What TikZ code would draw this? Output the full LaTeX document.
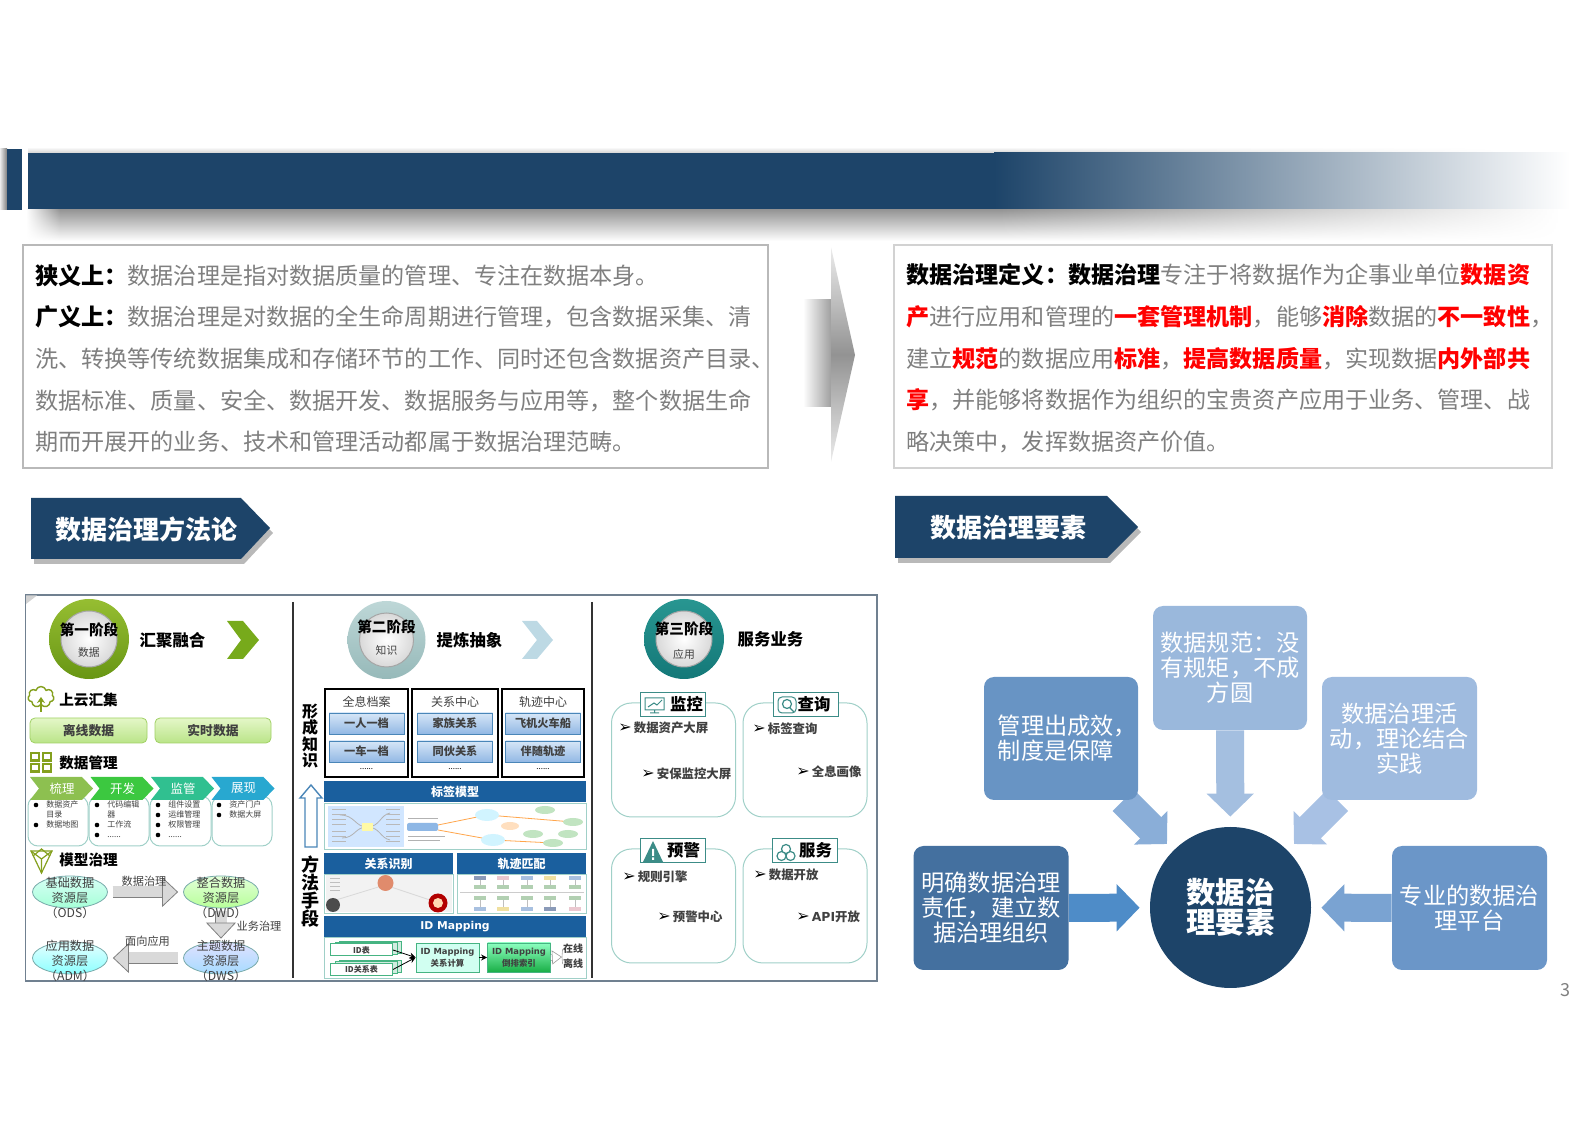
\documentclass[tikz,border=0pt]{standalone}
\usepackage{fontspec}
\setmainfont{Noto Sans CJK SC}
\newfontfamily\latinfont{DejaVu Sans}
\newcommand{\hlred}[1]{{\bfseries\color{red}#1}}
\newcommand{\hlblack}[1]{{\bfseries\color{black}#1}}
\newcommand{\pointer}{{\latinfont\fontsize{8}{7}\selectfont\color{black}➢}\,}
\usetikzlibrary{shapes.geometric,shapes.symbols,arrows.meta,backgrounds,fadings}
\tikzfading[name=barfade,left color=transparent!0,right color=transparent!100]
\tikzfading[name=barfadein,left color=transparent!100,right color=transparent!0]

\tikzset{
  box size/.style 2 args={minimum width=#1*0.5pt,minimum height=#2*0.5pt,inner sep=0pt},
  infobox/.style={draw=gray!55,line width=.6pt,fill=white},
  passage/.style={anchor=west,inner sep=0pt,align=left,text=bodygrey,font=\fontsize{11.55}{20.85}\selectfont},
  tagtext/.style={inner sep=0pt,text=white,font=\fontsize{13}{15}\selectfont\bfseries},
  factor/.style={rounded corners=5pt,text=white,align=center,inner sep=0pt,font=\fontsize{11.6}{12.5}\selectfont},
  feeder/.style={line width=14pt,-{Triangle[width=23pt,length=11.5pt]}},
  stageink/.style={inner sep=0pt,font=\fontsize{7.3}{8}\selectfont\bfseries},
  stagesub/.style={inner sep=0pt,text=textgrey,font=\fontsize{5.4}{6}\selectfont},
  stagehead/.style={inner sep=0pt,font=\fontsize{8.2}{9}\selectfont\bfseries},
  stagering/.style={circle,minimum size=40pt,inner sep=0pt},
  stagecore/.style={circle,draw=gray!70,line width=.5pt,inner color=white,outer color=gray!30,minimum size=28pt,inner sep=0pt},
  minihead/.style={anchor=west,inner sep=0pt,font=\fontsize{7.3}{8}\selectfont\bfseries},
  greenbutton/.style={rounded corners=2.5pt,draw=buttonedge,line width=.4pt,top color=buttontop,bottom color=buttonlow,text=textgrey,font=\fontsize{6.4}{7}\selectfont\bfseries},
  listcard/.style={rounded corners=5pt,draw=cardedge,line width=.5pt,fill=white},
  listtext/.style={anchor=north west,inner sep=0pt,align=left,text=textgrey,font=\fontsize{4}{5}\selectfont},
  chevtext/.style={inner sep=0pt,text=white,font=\fontsize{6.2}{7}\selectfont},
  layer/.style={ellipse,draw=layeredge,line width=.4pt,box size={75}{32}},
  layertext/.style={inner sep=0pt,align=center,text=textgrey,font=\fontsize{6.1}{7.5}\selectfont},
  smalllabel/.style={inner sep=0pt,text=textgrey,font=\fontsize{5.6}{6}\selectfont},
  blockflow/.style={line width=.4pt,draw=gray,double=gray!30,double distance=5.5pt,
    -{Triangle[width=15pt,length=8pt,fill=gray!30,color=gray,line width=.4pt]}},
  archive/.style={draw=black,line width=.8pt,fill=white},
  archivehead/.style={inner sep=0pt,text=textgrey,font=\fontsize{6}{7}\selectfont},
  bluecell/.style={draw=celledge,line width=.4pt,top color=celltop,bottom color=celllow,box size={75}{21},text=textgrey,font=\fontsize{5.6}{6}\selectfont\bfseries},
  dotted row/.style={inner sep=0pt,font=\fontsize{4}{4}\selectfont},
  bandhead/.style={fill=bandblue,text=white,font=\fontsize{6}{7}\selectfont\bfseries},
  bandbody/.style={draw=cardedge,line width=.4pt,fill=white},
  sidewords/.style={inner sep=0pt,align=center,font=\fontsize{8}{8.05}\selectfont\bfseries},
  idback/.style={draw=idgreen,line width=.4pt,fill=idgreen!25},
  idstack/.style={draw=idgreen,line width=.5pt,fill=white,box size={62}{12},text=textgrey,font=\fontsize{4}{5}\selectfont\bfseries},
  idblock/.style={draw=idgreen,line width=.4pt,box size={63}{29},align=center,text=textgrey,font=\fontsize{4.2}{6}\selectfont\bfseries},
  idflow/.style={line width=.4pt,-{Stealth[length=3pt,width=3pt]}},
  sidecard/.style={rounded corners=10pt,draw=cardedge,line width=.5pt,fill=white,box size={124}{114}},
  cardtag/.style={draw=tagteal,line width=.5pt,fill=white,box size={65}{23.5}},
  tagword/.style={inner sep=0pt,font=\fontsize{8.2}{9}\selectfont\bfseries},
  carditem/.style={anchor=west,inner sep=0pt,text=textgrey,font=\fontsize{6.2}{7}\selectfont\bfseries}
}

\begin{document}
\begin{tikzpicture}[x=0.5pt,y=-0.5pt]
    \definecolor{barnavy}{RGB}{29,68,105}
    \definecolor{bodygrey}{RGB}{127,127,127}
    \definecolor{textgrey}{RGB}{64,64,64}
    \definecolor{buttonedge}{RGB}{160,208,100}
    \definecolor{buttontop}{RGB}{228,247,200}
    \definecolor{buttonlow}{RGB}{186,228,136}
    \definecolor{cardedge}{RGB}{160,208,200}
    \definecolor{layeredge}{RGB}{120,170,170}
    \definecolor{celledge}{RGB}{74,134,184}
    \definecolor{celltop}{RGB}{214,230,247}
    \definecolor{celllow}{RGB}{146,184,228}
    \definecolor{bandblue}{RGB}{26,95,158}
    \definecolor{idgreen}{RGB}{70,180,130}
    \definecolor{tagteal}{RGB}{60,140,135}
    \definecolor{panelgrey}{RGB}{112,128,144}
    \definecolor{iconolive}{RGB}{132,160,30}
    \definecolor{ringonetop}{RGB}{150,190,50}
    \definecolor{ringonelow}{RGB}{104,150,20}
    \definecolor{ringtwotop}{RGB}{190,215,215}
    \definecolor{ringtwolow}{RGB}{150,185,185}
    \definecolor{ringthreetop}{RGB}{40,150,145}
    \definecolor{ringthreelow}{RGB}{20,120,120}
    \definecolor{chevsort}{RGB}{141,192,80}
    \definecolor{chevbuild}{RGB}{60,200,64}
    \definecolor{chevwatch}{RGB}{48,192,144}
    \definecolor{chevshow}{RGB}{40,168,208}
    \definecolor{trackdark}{RGB}{138,154,184}
    \definecolor{trackpink}{RGB}{235,200,208}
    \definecolor{trackblue}{RGB}{168,192,224}
    \definecolor{trackyellow}{RGB}{240,224,160}
    \definecolor{trackgreen}{RGB}{178,208,178}
    \definecolor{leadblue}{RGB}{68,112,159}
    \definecolor{manageblue}{RGB}{104,148,196}
    \definecolor{specblue}{RGB}{154,184,220}
    \definecolor{activityblue}{RGB}{159,187,223}
    \definecolor{platformblue}{RGB}{107,150,200}
    \definecolor{leadarrow}{RGB}{78,140,200}
    \definecolor{platformarrow}{RGB}{122,163,210}
    \definecolor{specarrow}{RGB}{164,191,224}
    \definecolor{managearrow}{RGB}{138,174,216}
    \definecolor{activityarrow}{RGB}{168,193,228}

    \useasboundingbox (0,0) rectangle (1587,1122);

    % Top bar with its shadow
    \shade[top color=white,bottom color=gray!35] (28,147) rectangle (1000,153);
    \shade[top color=white,bottom color=gray!35,path fading=barfade] (1000,147) rectangle (1500,153);
    \shade[top color=gray!85,bottom color=white,path fading=barfadein] (26,209) rectangle (60,241);
    \shade[top color=gray!85,bottom color=white] (60,209) rectangle (1000,241);
    \shade[top color=gray!85,bottom color=white,path fading=barfade] (1000,209) rectangle (1560,241);
    \shade[left color=gray!15,right color=gray] (0,149) rectangle (7,210);
    \fill[barnavy] (7,149) rectangle (22,210);
    \fill[barnavy] (28,153) rectangle (995,209);
    \shade[left color=barnavy,right color=white] (994,153) rectangle (1570,209);

    % Definition boxes
    \node[infobox,box size={745}{223}] (narrowbox) at (395.5,356.5) {};
    \node[passage] (narrowtext) at (35,358.5) {\hlblack{狭义上：}数据治理是指对数据质量的管理、专注在数据本身。\\
      \hlblack{广义上：}数据治理是对数据的全生命周期进行管理，包含数据采集、清\\
      洗、转换等传统数据集成和存储环节的工作、同时还包含数据资产目录、\\
      数据标准、质量、安全、数据开发、数据服务与应用等，整个数据生命\\
      期而开展开的业务、技术和管理活动都属于数据治理范畴。};

    \node[infobox,draw=gray!35,box size={658}{223}] (definebox) at (1223,356.5) {};
    \node[passage] (definetext) at (906,358.5) {\hlblack{数据治理定义：数据治理}专注于将数据作为企事业单位\hlred{数据资}\\
      \hlred{产}进行应用和管理的\hlred{一套管理机制}，能够\hlred{消除}数据的\hlred{不一致性}，\\
      建立\hlred{规范}的数据应用\hlred{标准}，\hlred{提高数据质量}，实现数据\hlred{内外部共}\\
      \hlred{享}，并能够将数据作为组织的宝贵资产应用于业务、管理、战\\
      略决策中，发挥数据资产价值。};

    % Big arrow between the boxes
    \shade[left color=white,right color=gray!75] (803,300) rectangle (831,407);
    \shade[top color=gray!15,bottom color=gray!15,middle color=gray!85] (831,247) -- (855,355) -- (831,462) -- cycle;

    % Section tags
    \fill[gray!55] (34,503) -- (244,503) -- (273,533) -- (244,564) -- (34,564) -- cycle;
    \fill[barnavy] (31,498) -- (241,498) -- (270,528) -- (241,559) -- (31,559) -- cycle;
    \node[tagtext] (methodtag) at (146.5,529) {数据治理方法论};
    \fill[gray!55] (898,501) -- (1110,501) -- (1141,532) -- (1110,563) -- (898,563) -- cycle;
    \fill[barnavy] (895,496) -- (1107,496) -- (1138,527) -- (1107,558) -- (895,558) -- cycle;
    \node[tagtext] (elementtag) at (1008,528) {数据治理要素};

    % Method panel
    \draw[panelgrey,line width=.7pt] (25.5,595) rectangle (877,981);
    \fill[gray!35] (26,595.5) -- (37,595.5) -- (26,604) -- cycle;
    \draw[black!80,line width=.8pt] (293,602) -- (293,978);
    \draw[black!80,line width=.8pt] (592,602) -- (592,978);

    % First stage
    \node[stagering,top color=ringonetop,bottom color=ringonelow] (ringone) at (89,639) {};
    \node[stagecore] (coreone) at (ringone.center) {};
    \node[stageink] (stageone) at (89,630) {第一阶段};
    \node[stagesub] (subone) at (89,652) {数据};
    \node[stagehead] (headone) at (172.5,640) {汇聚融合};
    \fill[iconolive!90!green] (227,621) -- (243,621) -- (259,640) -- (243,659) -- (227,659) -- (241,640) -- cycle;

    \node[cloud,cloud puffs=7,aspect=1.2,draw=iconolive,line width=.7pt,fill=white,minimum width=13pt,minimum height=10.5pt,inner sep=0pt] (cloudicon) at (41,697) {};
    \draw[iconolive,line width=.7pt,-{Stealth[length=3pt,width=4pt]}] (41,712) -- (cloudicon.center);
    \node[minihead] (cloudhead) at (59,700) {上云汇集};
    \node[greenbutton,box size={117}{25}] (offline) at (88.5,730.5) {离线数据};
    \node[greenbutton,box size={116}{25}] (realtime) at (213,730.5) {实时数据};

    \foreach \x/\y in {31/753,43/753,31/764,43/764}
      \draw[iconolive,line width=1.1pt,fill=white] (\x,\y) rectangle ++(8,7.5);
    \node[minihead] (managehead) at (59,763) {数据管理};

    \node[listcard,box size={60}{50}] (cardsort) at (58,821) {};
    \node[listcard,box size={60}{50}] (cardbuild) at (119,821) {};
    \node[listcard,box size={61}{50}] (cardwatch) at (180.5,821) {};
    \node[listcard,box size={60}{50}] (cardshow) at (242,821) {};
    \foreach \name/\x/\word in {sort/30/梳理,build/90.5/开发,watch/151/监管,show/211.5/展现}{
      \fill[color=chev\name] (\x,777) -- ++(52,0) -- ++(11,11.5) -- ++(-11,11.5) -- ++(-52,0) -- ++(9,-11.5) -- cycle;
      \node[chevtext] (chev\name) at ({\x+32},788.5) {\word};
    }
    \node[listtext] (listsort) at (46,800.5) {数据资产\\目录\\数据地图};
    \node[listtext] (listbuild) at (107,800.5) {代码编辑\\器\\工作流\\......};
    \node[listtext] (listwatch) at (168,800.5) {组件设置\\运维管理\\权限管理\\......};
    \node[listtext] (listshow) at (229,800.5) {资产门户\\数据大屏};
    \foreach \x/\y in {36/805,36/825,97/805,97/825,97/835,158/805,158/815,158/825,158/835,219/805,219/815}
      \fill[black] (\x,\y) circle (2.3);

    % Model icon
    \draw[iconolive,line width=.6pt] (31,851) -- (52,851) -- (41.5,873) -- cycle;
    \draw[iconolive,line width=.6pt] (31,851) -- (41.5,859) -- (52,851) (41.5,859) -- (41.5,873) (33,856) -- (41.5,849) -- (50,856);
    \node[minihead] (modelhead) at (59,860) {模型治理};

    \node[layer,top color=green!20!cyan!15,bottom color=green!45!cyan!35] (ods) at (70,892) {};
    \node[layer,top color=yellow!25!green!15,bottom color=yellow!30!green!40] (dwd) at (221,892) {};
    \node[layer,top color=blue!12,bottom color=blue!40!cyan!35] (dws) at (221,958) {};
    \node[layer,top color=cyan!10,bottom color=cyan!45] (adm) at (70,958) {};
    \draw[blockflow,shorten <=2.5pt,shorten >=2.5pt] (ods) -- (dwd);
    \draw[blockflow,shorten <=1.5pt,shorten >=1.5pt] (dwd) -- (dws);
    \draw[blockflow,shorten <=2.5pt,shorten >=2.5pt] (dws) -- (adm);
    \node[layertext] (odstext) at (70,898) {基础数据\\资源层\\（ODS）};
    \node[layertext] (dwdtext) at (221,898) {整合数据\\资源层\\（DWD）};
    \node[layertext] (dwstext) at (221,960.5) {主题数据\\资源层\\（DWS）};
    \node[layertext] (admtext) at (70,960.5) {应用数据\\资源层\\（ADM）};
    \node[smalllabel] (govern) at (144,881) {数据治理};
    \node[smalllabel] (business) at (259,926) {业务治理};
    \node[smalllabel] (facing) at (147.5,941) {面向应用};

    % Second stage
    \node[stagering,top color=ringtwotop,bottom color=ringtwolow,minimum size=39pt] (ringtwo) at (386.5,640) {};
    \node[stagecore,minimum size=27pt] (coretwo) at (ringtwo.center) {};
    \node[stageink] (stagetwo) at (386.5,627) {第二阶段};
    \node[stagesub] (subtwo) at (386.5,650) {知识};
    \node[stagehead] (headtwo) at (469.5,640) {提炼抽象};
    \fill[cyan!45!gray!40] (522,621) -- (537,621) -- (553,640) -- (537,659) -- (522,659) -- (537,640) -- cycle;

    \node[sidewords] (formwords) at (310,736) {形\\成\\知\\识};
    \draw[celledge,line width=.7pt,fill=white] (305,847) -- (305,798) -- (300,798) -- (311,785) -- (322,798) -- (317,798) -- (317,847) -- cycle;
    \node[sidewords,font=\fontsize{9}{9}\selectfont\bfseries] (meanwords) at (310,892) {方\\法\\手\\段};

    % Knowledge archives
    \foreach \name/\x/\wdth/\title/\one/\two in {person/366.5/83/全息档案/一人一档/一车一档,
                                                 relation/455/86/关系中心/家族关系/同伙关系,
                                                 track/543/82/轨迹中心/飞机火车船/伴随轨迹}{
      \node[archive,box size={\wdth}{88}] (arch\name) at (\x,733) {};
      \node[archivehead] (title\name) at (\x,702) {\title};
      \node[bluecell] (first\name) at (\x,723.5) {\one};
      \node[bluecell] (second\name) at (\x,751.5) {\two};
      \node[dotted row] (dots\name) at (\x,769) {......};
    }

    % Tag model band
    \node[bandbody,box size={262}{46}] (tagbody) at (455,826) {};
    \node[bandhead,box size={262}{21}] (taghead) at (455,791.5) {标签模型};
    \fill[blue!55!cyan!18] (328,806) rectangle (404,847);
    \draw[gray!60,line width=.4pt] (340,815) .. controls (355,815) and (355,827) .. (367,827) .. controls (380,827) and (380,815) .. (390,813);
    \draw[gray!60,line width=.4pt] (342,838) .. controls (355,838) and (355,827) .. (367,827) .. controls (380,827) and (380,838) .. (390,840);
    \foreach \y in {810,815,820,825,832,837,842} {
      \draw[gray!55,line width=.5pt] (332,\y) -- (346,\y);
      \draw[gray!55,line width=.5pt] (386,\y) -- (400,\y);
    }
    \fill[yellow!35] (362,823) rectangle (373,831);
    \draw[orange!70,line width=.4pt] (573,822) -- (487,815) -- (438,825);
    \draw[orange!70,line width=.4pt] (553,843) -- (493,840) -- (438,830);
    \fill[cyan!60!blue!45,rounded corners=1pt] (407,823) rectangle (438,831);
    \foreach \x/\y in {487/815,493/840} \fill[blue!25!cyan!18] (\x,\y) ellipse [x radius=12,y radius=6];
    \foreach \x/\y in {545/810,573/822,533/834,568/834,553/843} \fill[green!40!gray!35] (\x,\y) ellipse [x radius=10,y radius=4];
    \fill[orange!25] (510,826) ellipse [x radius=9,y radius=4];
    \foreach \y/\x in {818/438,836/445,840/440} \draw[gray!60,line width=.4pt] (408,\y) -- (\x,\y);

    % Relation and track bands
    \node[bandbody,box size={129}{39}] (relationbody) at (388.5,894) {};
    \node[bandhead,box size={129}{21}] (relationhead) at (388.5,863.5) {关系识别};
    \fill[gray!10] (326,875) rectangle (452,912);
    \draw[gray!30,line width=.4pt] (336,900) -- (385,885) -- (436,902);
    \fill[brown!70!red!70] (385.5,883) circle (8);
    \fill[black!70] (333,905) circle (7);
    \fill[red!70!black] (438,903) circle (9.5);
    \fill[orange!30] (438,903) circle (5);
    \foreach \y in {878,882,886,890} \draw[gray!50,line width=.3pt] (330,\y) -- (340,\y);

    \node[bandbody,box size={129}{39}] (trackbody) at (521.5,894) {};
    \node[bandhead,box size={129}{21}] (trackhead) at (521.5,863.5) {轨迹匹配};
    \draw[gray!40,line width=.3pt] (460,892.5) -- (584,892.5);
    \foreach \x/\upper/\lower in {480/trackdark/trackblue,503/trackpink/trackyellow,527/trackblue/trackblue,550/trackyellow/trackdark,575/trackblue/trackpink}{
      \fill[color=\upper] (\x-6,876.5) rectangle (\x+6,880.5);
      \fill[trackgreen] (\x-6,885) rectangle (\x+6,889);
      \fill[trackgreen] (\x-6,896) rectangle (\x+6,900);
      \fill[color=\lower] (\x-6,907) rectangle (\x+6,911);
      \draw[gray!50,line width=.2pt] (\x,880.5) -- (\x,885) (\x,900) -- (\x,907);
    }

    % ID Mapping band
    \node[bandbody,box size={262}{41}] (idbody) at (455,958) {};
    \node[bandhead,box size={262}{21},font=\fontsize{5.4}{7}\latinfont\bfseries] (idhead) at (455,926.5) {ID Mapping};
    \foreach \y in {941,960} {
      \draw[idback] (339,\y) rectangle (401,\y+12);
      \draw[idback] (335,\y+1) rectangle (397,\y+13);
    }
    \node[idstack] (idtable) at (361.5,950) {ID表};
    \node[idstack] (idrelation) at (361.5,969.5) {ID关系表};
    \node[idblock,fill=green!30!cyan!18] (idcalc) at (447.5,957.5) {{\latinfont ID Mapping}\\关系计算};
    \node[idblock,top color=green!55!cyan!45,bottom color=green!70!cyan!65!black!90] (idindex) at (519,957.5) {{\latinfont ID Mapping}\\倒排索引};
    \draw[idflow] (idtable.east) -- (idcalc.west);
    \draw[idflow] (idrelation.east) -- (idcalc.west);
    \draw[idflow] (idcalc) -- (idindex);
    \coordinate (idsplit) at (562,957);
    \node[smalllabel,font=\fontsize{5}{6}\selectfont\bfseries] (online) at (573,949) {在线};
    \node[smalllabel,font=\fontsize{5}{6}\selectfont\bfseries] (outline) at (573,964) {离线};
    \draw[gray!70,line width=.3pt] (idsplit) -- (online.west);
    \draw[gray!70,line width=.3pt] (idsplit) -- (outline.west);
    \draw[line width=.3pt,draw=gray!80,double=white,double distance=2.5pt,-{Triangle[width=7pt,length=5pt,fill=white,color=gray!80,line width=.3pt]}] (idindex.east) -- (idsplit);

    % Third stage
    \node[stagering,top color=ringthreetop,bottom color=ringthreelow] (ringthree) at (684,639) {};
    \node[stagecore] (corethree) at (ringthree.center) {};
    \node[stageink] (stagethree) at (684,629) {第三阶段};
    \node[stagesub] (subthree) at (684,654) {应用};
    \node[stagehead] (headthree) at (770.5,639) {服务业务};

    % Service cards
    \foreach \name/\x/\y/\title/\tagx/\wordx in {monitor/673.5/760/监控/673/686.5,
                                                 query/805/760/查询/805.5/814,
                                                 alert/673.5/906/预警/673/683.5,
                                                 serve/805/906/服务/805/815.5}{
      \node[sidecard] (card\name) at (\x,\y) {};
      \node[cardtag] (tag\name) at (\tagx,{\y-55.5}) {};
      \node[tagword] (word\name) at (\wordx,{\y-55.5}) {\title};
    }
    \draw[tagteal,line width=.5pt] (645,698) rectangle (664,710) (654.5,710) -- (654.5,713) (650,713) -- (659,713) (648,707) -- (654,703) -- (657,705) -- (662,700);
    \draw[tagteal,line width=.5pt,rounded corners=2pt] (778,697) rectangle (796,713);
    \draw[tagteal,line width=.6pt] (787,704) circle (4.5) (790,708) -- (794,712);
    \fill[tagteal] (643,862) -- (653,841) -- (663,862) -- cycle;
    \fill[white] (652,849) rectangle (654,856) (652,857.5) rectangle (654,860);
    \draw[tagteal,line width=.6pt] (786,849) circle (4.5) (781.5,856) circle (4.5) (790.5,856) circle (4.5);

    \node[carditem] (itema) at (618,728) {\pointer 数据资产大屏};
    \node[carditem] (itemb) at (641,774) {\pointer 安保监控大屏};
    \node[carditem] (itemc) at (752,729) {\pointer 标签查询};
    \node[carditem] (itemd) at (796,772) {\pointer 全息画像};
    \node[carditem] (iteme) at (622,877) {\pointer 规则引擎};
    \node[carditem] (itemf) at (657,917) {\pointer 预警中心};
    \node[carditem] (itemg) at (753,875) {\pointer 数据开放};
    \node[carditem] (itemh) at (796,917) {\pointer {\latinfont API}开放};

    % Elements of governance
    \node[factor,fill=leadblue,box size={155}{124}] (lead) at (991,908) {明确数据治理\\责任，建立数\\据治理组织};
    \node[factor,fill=manageblue,box size={154}{123},align=left] (manage) at (1061,738.5) {\hspace*{6.5pt}管理出成效，\\\hspace*{6.5pt}制度是保障};
    \node[factor,fill=specblue,box size={154}{124}] (spec) at (1230,668) {数据规范：没\\有规矩，不成\\方圆};
    \node[factor,fill=activityblue,box size={155}{123}] (activity) at (1399.5,738.5) {数据治理活\\动，理论结合\\实践};
    \node[factor,fill=platformblue,box size={155}{124}] (platform) at (1469.5,908) {专业的数据治\\理平台};
    \node[circle,fill=barnavy,minimum size=80.5pt,inner sep=0pt,text=white,align=center,font=\fontsize{14.75}{15}\selectfont\bfseries] (hub) at (1230.5,907.5) {数据治\\理要素};
    \coordinate (manageend) at (1167,844);
    \coordinate (activityend) at (1294,844);

    \begin{pgfonlayer}{background}
      \draw[feeder,color=leadarrow,shorten >=5pt] (lead) -- (hub);
      \draw[feeder,color=platformarrow,shorten >=5pt] (platform) -- (hub);
      \draw[feeder,color=specarrow,shorten >=5pt] (spec) -- (hub);
      \draw[feeder,color=managearrow,line width=15pt] (manage) -- (manageend);
      \draw[feeder,color=activityarrow,line width=15pt] (activity) -- (activityend);
    \end{pgfonlayer}

    % Page number
    \node[inner sep=0pt,text=bodygrey,font=\fontsize{9}{10}\selectfont] (pagenumber) at (1565,990) {3};
\end{tikzpicture}
\end{document}
